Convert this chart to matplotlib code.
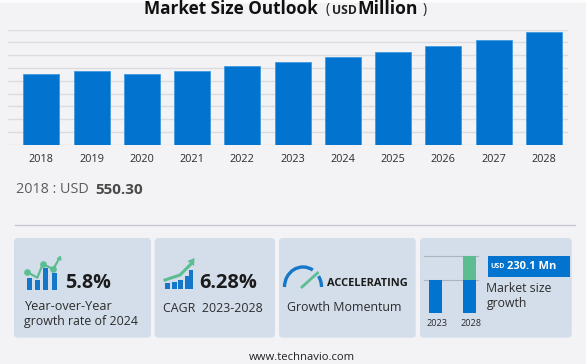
import matplotlib
matplotlib.use("Agg")
import matplotlib.pyplot as plt
from matplotlib.patches import FancyBboxPatch, Rectangle, Arc, Polygon

plt.rcParams['font.family'] = ['Open Sans', 'DejaVu Sans']

years = ['2018','2019','2020','2021','2022','2023','2024','2025','2026','2027','2028']
values = [550.3, 574, 553, 580, 612, 645, 682, 722, 768, 822, 882]
yticks = list(range(0, 1000, 100))

stat_cards = [
    (14, 137, '5.8%', 'Year-over-Year\ngrowth rate of 2024'),
    (154.7, 120.3, '6.28%', 'CAGR  2023-2028'),
    (279, 136.7, 'ACCELERATING', 'Growth Momentum'),
    (420, 151.7, '', ''),
]
mini_years = ['2023', '2028']

BG = '#f3f3f6'; BLUE = '#0273cf'; GREEN = '#5cbd92'; CARD = '#d3deea'; TXT = '#2c2c2c'
W, H = 586, 364
fig = plt.figure(figsize=(W/100, H/100), dpi=100, facecolor=BG)

# pixel-space canvas for page furniture
bg = fig.add_axes([0, 0, 1, 1], zorder=0)
bg.set_xlim(0, W); bg.set_ylim(H, 0); bg.axis('off')

for hh in (1, 2, 3):
    bg.add_patch(Rectangle((0, 0), W, hh, fc='white', alpha=0.6, lw=0))

# main bar chart
x0, x1, ytop, ybot = 8, 568, 29.5, 145
ax = fig.add_axes([x0/W, 1-ybot/H, (x1-x0)/W, (ybot-ytop)/H], zorder=1)
ax.patch.set_alpha(0)
ax.bar(range(len(years)), values, width=0.716, color=BLUE, edgecolor='#3f9be0', linewidth=0.6, zorder=3)
ax.set_xlim(-0.662, 10.48); ax.set_ylim(0, 900)
ax.set_yticks(yticks); ax.tick_params(axis='y', length=0, labelleft=False)
ax.set_xticks(range(len(years))); ax.set_xticklabels(years, fontsize=7.8, color=TXT)
ax.tick_params(axis='x', length=0, pad=6.5)
ax.grid(axis='y', color='#dcdce0', lw=1, zorder=0)
ax.set_axisbelow(True)
for s in ax.spines.values():
    s.set_visible(False)

# title
bg.text(230.5, 8.5, 'Market Size Outlook', fontsize=12.3, fontweight='bold', color='#111111', ha='center', va='center')
bg.text(327.5, 9.5, '(', fontsize=10, color='#222222', ha='center', va='center')
bg.text(344.5, 10, 'USD', fontsize=8.7, fontweight='bold', color='#222222', ha='center', va='center')
bg.text(388, 8.5, 'Million', fontsize=12.6, fontweight='bold', color='#111111', ha='center', va='center')
bg.text(425, 9.5, ')', fontsize=10, color='#222222', ha='center', va='center')

# first-year line
bg.text(16.5, 189.5, '2018 : USD', fontsize=10.4, color='#5c5c5c', ha='left', va='center')
bg.text(95.5, 189.5, f'{values[0]:.2f}', fontsize=11, fontweight='bold', color='#4a4a4a', ha='left', va='center')

# separator
bg.plot([15, 575], [225, 225], color='#c8c8d2', lw=1)

# cards
for (cx, cw, big, sub) in stat_cards:
    bg.add_patch(FancyBboxPatch((cx, 238), cw, 99.7, boxstyle='round,pad=0,rounding_size=4',
                                fc=CARD, ec='none', lw=0))

# card 1 icon + text
bg.text(65, 282.5, stat_cards[0][2], fontsize=14.2, fontweight='bold', color='#1b1b1b', ha='left', va='center')
bg.text(24, 306.5, 'Year-over-Year', fontsize=9.1, color=TXT, ha='left', va='center')
bg.text(24, 322, 'growth rate of 2024', fontsize=8.95, color=TXT, ha='left', va='center')
for bx, bt in zip([26.7, 35, 43.3, 51.8], [278, 280, 268, 273]):
    bg.add_patch(Rectangle((bx, bt), 5, 290-bt, fc='#1577c9', lw=0))
bg.plot([26.7, 37.3, 42.7, 53.3, 59.5], [271.7, 277.7, 264.3, 269, 258], color=GREEN, lw=1.6)
bg.plot([26.7, 42.7, 53.3], [271.7, 264.3, 269], 'o', color=GREEN, ms=3.8)
bg.add_patch(Polygon([[56.5, 258.5], [61, 255.5], [61.5, 261]], fc=GREEN, lw=0))

# card 2 icon + text
bg.text(199, 282.5, stat_cards[1][2], fontsize=14.4, fontweight='bold', color='#1b1b1b', ha='left', va='center')
bg.text(163, 308, stat_cards[1][3], fontsize=8.9, color=TXT, ha='left', va='center')
for bx, bt in zip([165, 171.7, 178.4, 185, 188.5], [283, 282, 280, 276, 269.5]):
    bg.add_patch(Rectangle((bx, bt), 4.8, 289-bt, fc='#1577c9', lw=0))
bg.plot([165, 180, 192], [280, 275, 263], color=GREEN, lw=2.2)
bg.add_patch(Polygon([[187.5, 261], [194.5, 258], [194, 266]], fc=GREEN, lw=0))

# card 3 icon + text
for t1, t2 in ((180, 300), (325, 360)):
    bg.add_patch(Arc((303, 287), 37, 40, theta1=t1, theta2=t2, color='#1577c9', lw=2.4))
bg.plot([302, 317.5], [287, 273], color=GREEN, lw=2)
bg.text(327, 283, stat_cards[2][2], fontsize=7.9, fontweight='bold', color='#1b1b1b', ha='left', va='center')
bg.text(287, 307.5, stat_cards[2][3], fontsize=8.9, color=TXT, ha='left', va='center')

# card 4
for lx in (255.5, 280):
    bg.plot([424, 478], [lx, lx], color='#aeb4bb', lw=0.8)
for bx in (429.3, 463.3):
    bg.add_patch(Rectangle((bx, 280), 13, 33, fc=BLUE, lw=0, zorder=3))
bg.add_patch(Rectangle((463.3, 255.5), 13, 24.5, fc=GREEN, lw=0, zorder=3))
bg.text(437, 323, mini_years[0], fontsize=6.6, color=TXT, ha='center', va='center')
bg.text(471, 323, mini_years[1], fontsize=6.6, color=TXT, ha='center', va='center')
bg.add_patch(Rectangle((488, 256), 82, 20.5, fc=BLUE, lw=0))
bg.text(490, 267, 'USD', fontsize=5, fontweight='bold', color='white', ha='left', va='center')
bg.text(507, 266.5, '230.1 Mn', fontsize=8, fontweight='bold', color='white', ha='left', va='center')
bg.text(486.5, 288.5, 'Market size', fontsize=8.8, color=TXT, ha='left', va='center')
bg.text(486.5, 303.5, 'growth', fontsize=8.8, color=TXT, ha='left', va='center')

bg.text(302, 358, 'www.technavio.com', fontsize=8.1, color='#222222', ha='center', va='center')

fig.savefig('out.png', dpi=100, facecolor=BG)
